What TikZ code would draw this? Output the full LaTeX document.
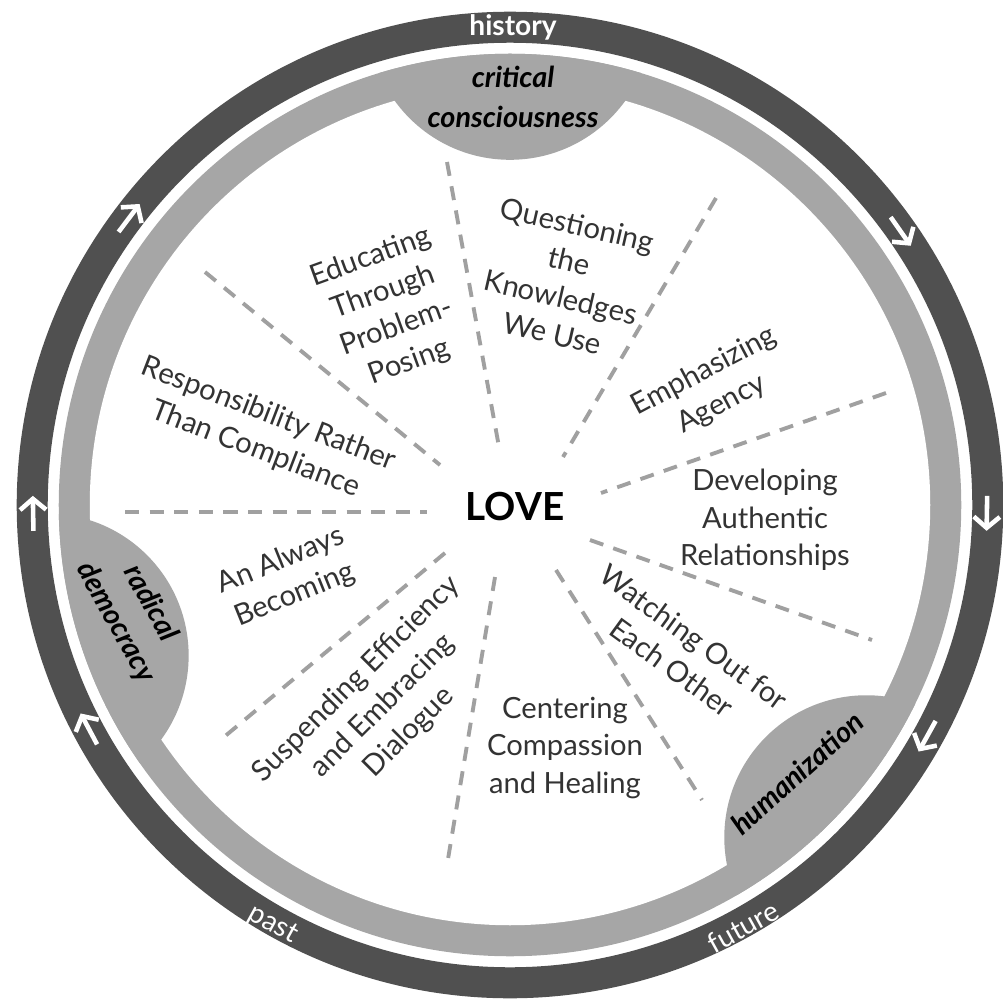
\documentclass[tikz,border=0pt]{standalone}
\usepackage{fontspec}
\setmainfont{Lato}
\usepackage{xcolor}
\usepackage{tikz}
\usetikzlibrary{arrows}
\usetikzlibrary{arrows.meta}

\definecolor{ringdark}{HTML}{505050}
\definecolor{ringlight}{HTML}{A6A6A6}
\definecolor{dashgray}{HTML}{A0A0A0}
\definecolor{txtgray}{HTML}{333333}

\tikzset{
  spoke/.style={dashgray, line width=1.1pt, dash pattern=on 4pt off 3pt},
  ringarrow/.style={white, line width=1.3pt, -{Straight Barb[length=1.1mm,width=2.6mm]}},
  ringword/.style={white, font=\fontsize{8}{9}\selectfont},
  petal/.style={txtgray, align=center, font=\fontsize{8.3}{10.6}\selectfont},
  bumpword/.style={black, align=center, font=\fontsize{8.2}{11.2}\selectfont\bfseries\itshape},
}

\begin{document}
\begin{tikzpicture}[x=0.01cm,y=-0.01cm]
\useasboundingbox (0,0) rectangle (1003,1000);
\coordinate (c) at (510,505);
%% light ring with the three bumps, dark ring outside
\fill[ringlight] (c) circle (4.51cm);
\fill[white] (c) circle (4.20cm);
\begin{scope}
  \clip (c) circle (4.51cm);
  \foreach \a in {90,198,317}
    \fill[ringlight] ([shift={(\a:4.87cm)}]c) circle (1.42cm);
\end{scope}
\draw[ringdark, line width=0.31cm] (c) circle (4.775cm);
%% arrows running clockwise
\foreach \a in {35,143,181,208,331,359}
  \draw[ringarrow] ([shift={(\a+2.1:4.77cm)}]c) -- ([shift={(\a-2.1:4.77cm)}]c);
\node[ringword, font=\fontsize{8}{9}\selectfont\bfseries] (hist) at (513,27) {history};
\node[ringword, rotate=-29] (past) at (273,925) {past};
\node[ringword, rotate=29] (fut) at (743,927) {future};

%% dashed spokes
\foreach \i/\p/\q in {1/{447,162}/{499,447}, 2/{716,198}/{563,457}, 3/{886,393}/{601,493},
    4/{590,540}/{872,640}, 5/{556,570}/{702,800}, 6/{495,577}/{447,865},
    7/{445,553}/{218,742}, 8/{125,512}/{427,512}, 9/{205,272}/{440,465}} {
  \coordinate (s\i a) at (\p);
  \coordinate (s\i b) at (\q);
  \draw[spoke] (s\i a) -- (s\i b);
}

%% bump labels
\node[bumpword] (crit) at (513,97) {critical\\consciousness};
\node[bumpword, rotate=-61] (radi) at (133,613) {radical\\democracy};
\node[bumpword, rotate=42] (huma) at (797,773) {humanization};

%% centre and segments
\node[black, font=\fontsize{11}{12}\selectfont\bfseries] (love) at (515,507) {LOVE};
\node[petal, rotate=20] (educ) at (390,310) {Educating\\Through\\Problem-\\Posing};
\node[petal, rotate=-13] (ques) at (565,279) {Questioning\\the\\Knowledges\\We Use};
\node[petal, rotate=28] (emph) at (713,388) {Emphasizing\\Agency};
\node[petal] (devl) at (765,520) {Developing\\Authentic\\Relationships};
\node[petal, rotate=-36] (watc) at (683,652) {Watching Out for\\Each Other};
\node[petal] (cent) at (565,748) {Centering\\Compassion\\and Healing};
\node[petal, rotate=45] (susp) at (383,706) {Suspending Efficiency\\and Embracing\\Dialogue};
\node[petal, rotate=22] (alwa) at (288,578) {An Always\\Becoming};
\node[petal, rotate=-21] (resp) at (262,432) {Responsibility Rather\\Than Compliance};
\end{tikzpicture}
\end{document}
